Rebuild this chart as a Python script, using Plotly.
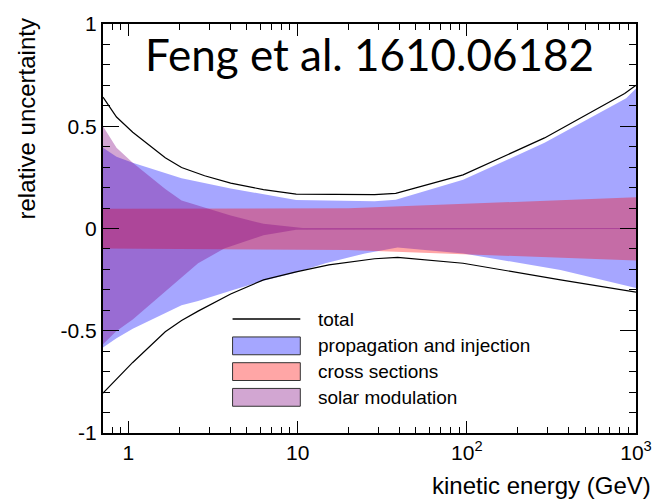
import plotly.graph_objects as go

# ---------------- data ----------------
E_total_up = [0.707, 0.85, 1.06, 1.65, 2.06, 2.82, 4.02, 6.28, 9.8, 28.5, 38, 95, 288, 857, 1000]
total_up = [0.642, 0.545, 0.471, 0.346, 0.298, 0.258, 0.222, 0.19, 0.168, 0.166, 0.172, 0.262, 0.443, 0.66, 0.70]
E_total_lo = [0.707, 0.85, 1.06, 1.65, 2.06, 2.58, 4.02, 6.28, 9.8, 15.3, 28.5, 39, 95, 358, 1000]
total_lo = [-0.805, -0.735, -0.655, -0.505, -0.45, -0.404, -0.32, -0.251, -0.212, -0.178, -0.148, -0.141, -0.17, -0.251, -0.311]

E_prop_up = [0.707, 0.85, 1.06, 2.06, 4.02, 9.8, 28.5, 38, 95, 288, 875, 1000]
prop_up = [0.395, 0.351, 0.322, 0.246, 0.196, 0.139, 0.133, 0.14, 0.238, 0.419, 0.637, 0.685]
E_prop_lo = [0.707, 0.85, 1.06, 2.06, 2.58, 4.02, 6.28, 9.8, 14.6, 25, 39, 95, 358, 1000]
prop_lo = [-0.582, -0.537, -0.49, -0.375, -0.355, -0.305, -0.255, -0.215, -0.17, -0.122, -0.093, -0.122, -0.203, -0.291]

E_xs = [0.707, 20, 1000]
xs_up = [0.097, 0.099, 0.153]
xs_lo = [-0.098, -0.105, -0.157]

E_sol_up = [0.707, 0.85, 1.06, 1.65, 2.06, 4.02, 6.28, 10.7, 1000]
sol_up = [0.50, 0.395, 0.322, 0.193, 0.137, 0.064, 0.023, 0.003, 0.002]
E_sol_lo = [0.707, 0.85, 1.06, 1.65, 2.58, 3.68, 6.28, 9.8, 1000]
sol_lo = [-0.566, -0.501, -0.445, -0.308, -0.170, -0.098, -0.033, -0.006, -0.002]

x_tickvals = [1, 10, 100, 1000]
x_ticktext = ["1", "10", "10<sup>2</sup>", "10<sup>3</sup>"]
x_minor = [0.8, 0.9, 2, 3, 4, 5, 6, 7, 8, 9, 20, 30, 40, 50, 60, 70, 80, 90,
           200, 300, 400, 500, 600, 700, 800, 900]
y_tickvals = [-1, -0.5, 0, 0.5, 1]
y_ticktext = ["-1", "-0.5", "0", "0.5", "1"]

legend_labels = ["total", "propagation and injection", "cross sections", "solar modulation"]

# ---------------- styling ----------------
W, H = 664, 502
L, R, T, B = 103, 646, 20, 433
BLUE = "rgba(0,0,255,0.35)"
RED = "rgba(255,0,0,0.35)"
PURP = "rgba(128,0,128,0.35)"
LEG_FILL = ["rgb(165,166,255)", "rgb(255,166,166)", "rgb(210,166,210)"]
FONT = "Liberation Sans, Arial, sans-serif"


def px(x):
    return (x - L) / (R - L)


def py(y):
    return (B - y) / (B - T)


def band(E_up, up, E_lo, lo, color, name):
    return go.Scatter(x=list(E_up) + list(E_lo)[::-1], y=list(up) + list(lo)[::-1],
                      fill="toself", fillcolor=color, mode="lines",
                      line=dict(width=0, color=color), name=name,
                      showlegend=False, hoverinfo="skip")


fig = go.Figure()
fig.add_trace(band(E_prop_up, prop_up, E_prop_lo, prop_lo, BLUE, legend_labels[1]))
fig.add_trace(band(E_xs, xs_up, E_xs, xs_lo, RED, legend_labels[2]))
fig.add_trace(band(E_sol_up, sol_up, E_sol_lo, sol_lo, PURP, legend_labels[3]))
fig.add_trace(go.Scatter(x=E_total_up, y=total_up, mode="lines",
                         line=dict(color="black", width=1.2), showlegend=False))
fig.add_trace(go.Scatter(x=E_total_lo, y=total_lo, mode="lines",
                         line=dict(color="black", width=1.2), showlegend=False))

shapes = []
annotations = []
# custom legend
rows = [318, 345, 371, 397]
lx0, lx1 = 235, 304
shapes.append(dict(type="line", xref="paper", yref="paper", x0=px(lx0), x1=px(lx1),
                   y0=py(rows[0]), y1=py(rows[0]), line=dict(color="black", width=1.5)))
for i in range(3):
    yc = rows[i + 1]
    shapes.append(dict(type="rect", xref="paper", yref="paper", x0=px(lx0), x1=px(lx1),
                       y0=py(yc - 9), y1=py(yc + 9), fillcolor=LEG_FILL[i],
                       line=dict(color="#333333", width=1)))
for i, lab in enumerate(legend_labels):
    annotations.append(dict(text=lab, xref="paper", yref="paper", x=px(320), y=py(rows[i]),
                            xanchor="left", yanchor="middle", showarrow=False,
                            font=dict(family=FONT, size=19, color="black")))

# title text inside the plot
annotations.append(dict(text="Feng et al. 1610.06182", xref="paper", yref="paper",
                        x=px(375), y=py(50), xanchor="center", yanchor="middle",
                        showarrow=False, font=dict(family="Lato, Open Sans, sans-serif", size=44, color="black")))
# axis titles
annotations.append(dict(text="kinetic energy (GeV)", xref="paper", yref="paper",
                        x=px(663), y=py(486), xanchor="right", yanchor="middle",
                        showarrow=False, font=dict(family=FONT, size=24, color="black")))
annotations.append(dict(text="relative uncertainty", xref="paper", yref="paper",
                        x=px(25), y=py(116), xanchor="center", yanchor="middle", textangle=-90,
                        showarrow=False, font=dict(family=FONT, size=24, color="black")))

fig.update_layout(
    width=W, height=H,
    margin=dict(l=L, r=W - R, t=T, b=H - B, pad=0),
    paper_bgcolor="white", plot_bgcolor="white",
    showlegend=False,
    shapes=shapes, annotations=annotations,
    xaxis=dict(type="log", range=[-0.1505, 3], tickmode="array", tickvals=x_tickvals,
               ticktext=x_ticktext, ticks="inside", ticklen=12, tickwidth=1.2, tickcolor="black",
               minor=dict(tickmode="array", tickvals=x_minor, ticks="inside", ticklen=6,
                          tickwidth=1.2, tickcolor="black", showgrid=False),
               showline=True, linecolor="black", linewidth=2, mirror="ticks",
               showgrid=False, zeroline=False,
               tickfont=dict(family=FONT, size=21, color="black")),
    yaxis=dict(range=[-1, 1], tickmode="array", tickvals=y_tickvals, ticktext=y_ticktext,
               ticks="inside", ticklen=16, tickwidth=1.2, tickcolor="black",
               minor=dict(dtick=0.1, tick0=0, ticks="inside", ticklen=7,
                          tickwidth=1.2, tickcolor="black", showgrid=False),
               showline=True, linecolor="black", linewidth=2, mirror="ticks",
               showgrid=False, zeroline=False,
               tickfont=dict(family=FONT, size=21, color="black")),
)

fig.write_html("out.html")
